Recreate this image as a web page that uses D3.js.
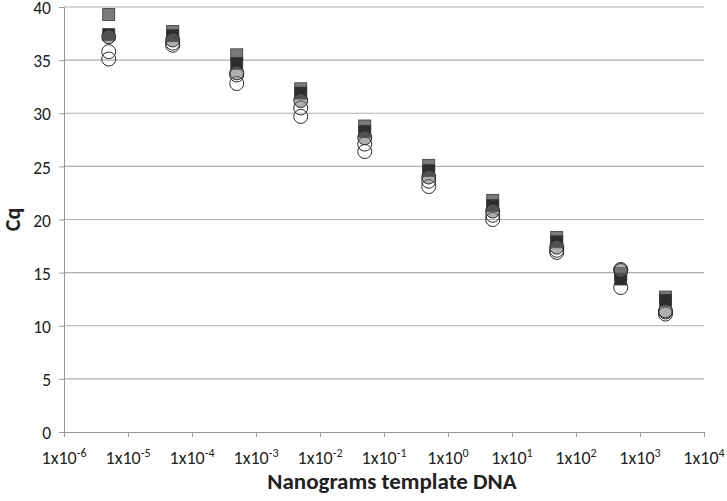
<!DOCTYPE html>
<html><head><meta charset="utf-8">
<script src="https://cdn.jsdelivr.net/npm/d3@7"></script>
<style>body{margin:0;background:#fff}svg{display:block}</style>
</head><body>
<script>
const doses = [5e-6, 5e-5, 5e-4, 5e-3, 5e-2, 5e-1, 5, 50, 500, 2500];
const graySquares = [39.3, 37.7, 35.5, 32.3, 28.8, 25.1, 21.8, 18.3, 14.9, 12.7];
const darkSquares = [37.4, 37.3, 34.7, 31.9, 28.3, 24.6, 21.3, 17.9, 14.4, 12.4];
const grayCircles = [37.2, 36.9, 33.8, 31.2, 27.7, 24.0, 20.8, 17.4, 15.2, 11.4];
const openCirclesA = [35.1, 36.4, 32.8, 29.7, 26.4, 23.1, 20.0, 16.9, 13.6, 11.1];
const openCirclesB = [35.8, 36.6, 33.6, 30.5, 27.1, 23.6, 20.4, 17.1, 15.3, 11.3];
const xTickExps = [-6, -5, -4, -3, -2, -1, 0, 1, 2, 3, 4];
const yTicks = [0, 5, 10, 15, 20, 25, 30, 35, 40];
const xTitle = "Nanograms template DNA";
const yTitle = "Cq";

const W = 727, H = 501;
const m = {l: 64, r: 23, t: 7, b: 69};
const svg = d3.select("body").append("svg").attr("width", W).attr("height", H);
const font = "Carlito, Lato, 'Open Sans', sans-serif";

const x = d3.scaleLog().domain([1e-6, 1e4]).range([m.l, W - m.r]);
const y = d3.scaleLinear().domain([0, 40]).range([H - m.b, m.t]);

// gridlines
svg.append("g").selectAll("line").data(yTicks.filter(d => d > 0)).join("line")
  .attr("x1", m.l).attr("x2", W - m.r).attr("y1", d => y(d)).attr("y2", d => y(d))
  .attr("stroke", "#b0b0b0").attr("stroke-width", 1.2);

// y axis
const ya = svg.append("g").attr("transform", `translate(${m.l},0)`)
  .call(d3.axisLeft(y).tickValues(yTicks).tickSize(5).tickPadding(8));
ya.select(".domain").attr("stroke", "#999");
ya.selectAll(".tick line").attr("stroke", "#999");
ya.selectAll("text").attr("font-family", font).attr("font-size", 17.5).attr("fill", "#222")
  .attr("dy", "0.38em");

// x axis
const xa = svg.append("g").attr("transform", `translate(0,${y(0)})`)
  .call(d3.axisBottom(x).tickValues(xTickExps.map(e => Math.pow(10, e))).tickSize(5).tickFormat(""));
xa.select(".domain").attr("stroke", "#999");
xa.selectAll(".tick line").attr("stroke", "#999");
const lbl = svg.append("g").selectAll("text").data(xTickExps).join("text")
  .attr("x", e => x(Math.pow(10, e))).attr("y", y(0) + 32)
  .attr("text-anchor", "middle").attr("font-family", font).attr("font-size", 18).attr("fill", "#222");
lbl.append("tspan").text("1x10");
lbl.append("tspan").attr("dy", -7).attr("font-size", 12).text(e => e);

// titles
svg.append("text").attr("x", (m.l + W - m.r) / 2 + 8).attr("y", 489).attr("text-anchor", "middle")
  .attr("font-family", font).attr("font-size", 23).attr("font-weight", "bold").attr("fill", "#222").text(xTitle);
svg.append("text").attr("transform", `translate(20,${(m.t + y(0)) / 2}) rotate(-90)`).attr("text-anchor", "middle")
  .attr("font-family", font).attr("font-size", 22).attr("font-weight", "bold").attr("fill", "#222").text(yTitle);

// markers
const S = 12, R = 7;
function squares(vals, fill) {
  svg.append("g").selectAll("rect").data(vals).join("rect")
    .attr("x", (d, i) => x(doses[i]) - S / 2).attr("y", d => y(d) - S / 2)
    .attr("width", S).attr("height", S)
    .attr("fill", fill).attr("stroke", "#3a3a3a").attr("stroke-width", 0.8);
}
function circles(vals, fill) {
  svg.append("g").selectAll("circle").data(vals).join("circle")
    .attr("cx", (d, i) => x(doses[i])).attr("cy", d => y(d)).attr("r", R)
    .attr("fill", fill).attr("stroke", "#2a2a2a").attr("stroke-width", 1);
}
squares(graySquares, "#7a7a7a");
squares(darkSquares, "#2e2e2e");
circles(openCirclesA, "none");
circles(openCirclesB, "none");
circles(grayCircles, "rgba(110,110,110,0.55)");
</script>
</body></html>
